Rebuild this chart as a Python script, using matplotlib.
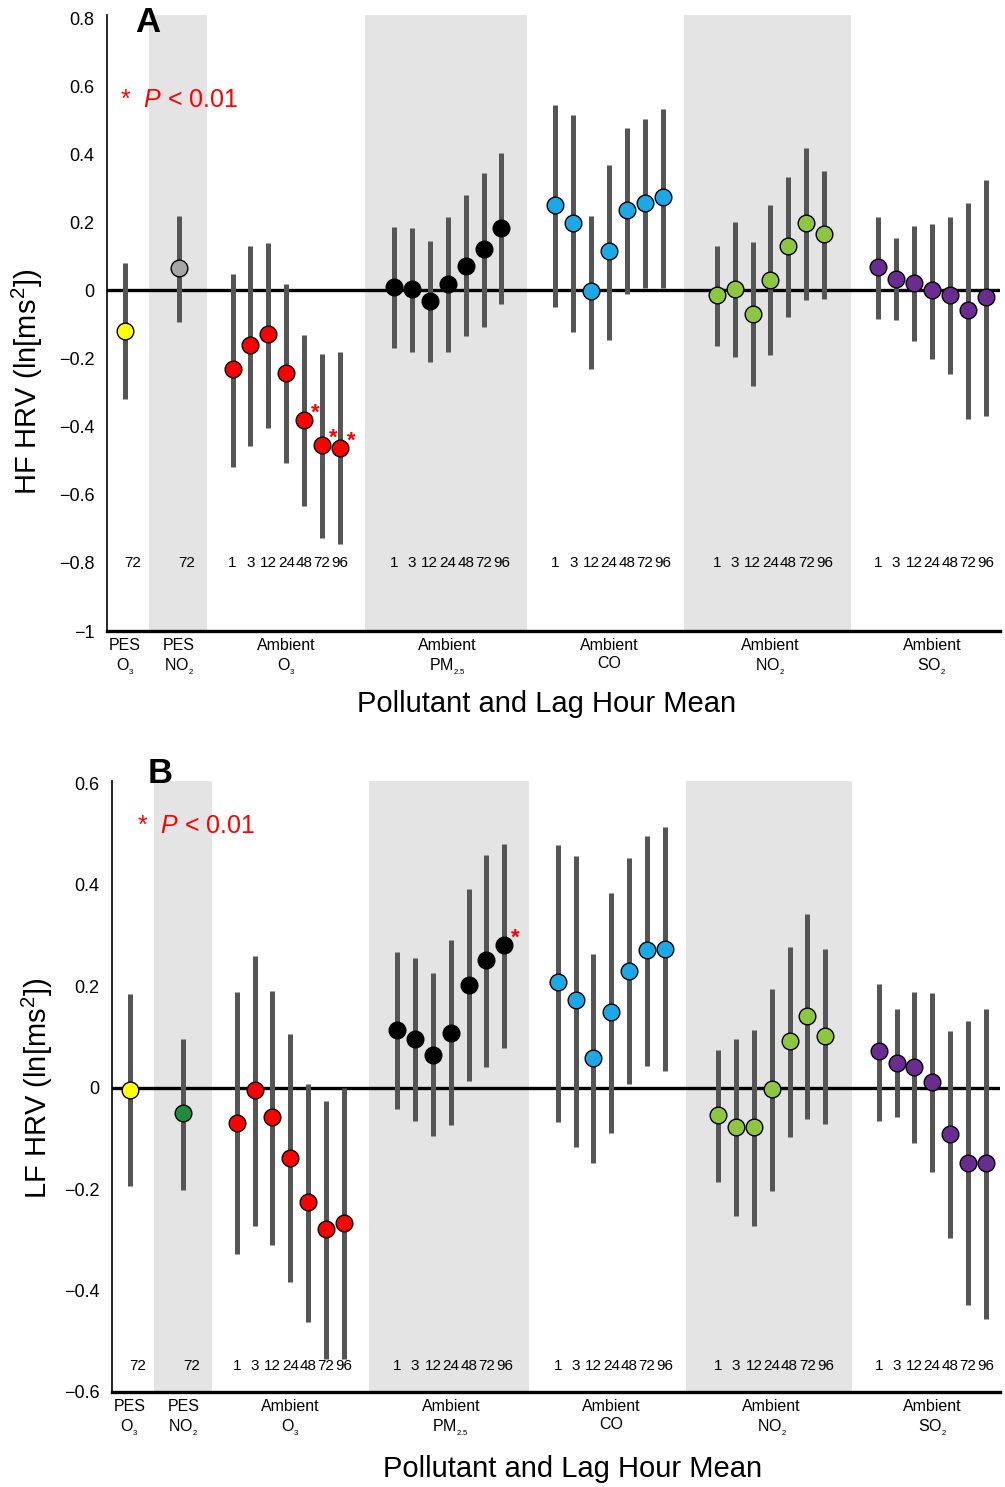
import matplotlib

matplotlib.use("Agg")
import matplotlib.pyplot as plt
import matplotlib.transforms as mtransforms
import numpy as np

plt.rcParams["font.family"] = ["Liberation Sans", "DejaVu Sans"]
plt.rcParams["mathtext.fontset"] = "custom"
plt.rcParams["mathtext.rm"] = "Liberation Sans"
plt.rcParams["mathtext.it"] = "Liberation Sans:italic"
plt.rcParams["mathtext.bf"] = "Liberation Sans:bold"

lag_hours = ["1", "3", "12", "24", "48", "72", "96"]
pes_labels = ["PES\nO$_{_3}$", "PES\nNO$_{_2}$"]
pes_lag = ["72", "72"]
ambient_labels = ["Ambient\nO$_{_3}$", "Ambient\nPM$_{_{2.5}}$", "Ambient\nCO",
                  "Ambient\nNO$_{_2}$", "Ambient\nSO$_{_2}$"]
ambient_colors = ["#ff0000", "#000000", "#1aa8e6", "#8dc63f", "#6a2c91"]

# panel A: HF HRV
hf_pes_colors = ["#ffff00", "#a6a6a6"]
hf_pes_est = [-0.118, 0.065]
hf_pes_lo = [-0.320, -0.093]
hf_pes_hi = [0.081, 0.220]
hf_est = [
    [-0.232, -0.161, -0.127, -0.243, -0.380, -0.455, -0.462],
    [0.011, 0.004, -0.032, 0.020, 0.072, 0.122, 0.182],
    [0.250, 0.199, -0.001, 0.115, 0.236, 0.258, 0.274],
    [-0.012, 0.004, -0.069, 0.032, 0.130, 0.197, 0.166],
    [0.068, 0.035, 0.022, 0.000, -0.012, -0.058, -0.018],
]
hf_lo = [
    [-0.519, -0.458, -0.403, -0.507, -0.632, -0.728, -0.746],
    [-0.168, -0.181, -0.211, -0.181, -0.135, -0.108, -0.041],
    [-0.050, -0.122, -0.230, -0.146, -0.009, 0.007, 0.007],
    [-0.162, -0.196, -0.281, -0.189, -0.078, -0.027, -0.024],
    [-0.084, -0.086, -0.147, -0.201, -0.246, -0.378, -0.368],
]
hf_hi = [
    [0.049, 0.130, 0.140, 0.018, -0.132, -0.186, -0.182],
    [0.186, 0.184, 0.145, 0.216, 0.280, 0.345, 0.403],
    [0.545, 0.515, 0.219, 0.369, 0.476, 0.504, 0.534],
    [0.131, 0.200, 0.142, 0.250, 0.334, 0.419, 0.351],
    [0.215, 0.153, 0.189, 0.195, 0.215, 0.257, 0.323],
]
hf_signif = [(0, 4), (0, 5), (0, 6)]

# panel B: LF HRV
lf_pes_colors = ["#ffff00", "#1e8c3a"]
lf_pes_est = [-0.004, -0.051]
lf_pes_lo = [-0.195, -0.201]
lf_pes_hi = [0.184, 0.096]
lf_est = [
    [-0.070, -0.005, -0.058, -0.139, -0.226, -0.279, -0.267],
    [0.113, 0.096, 0.065, 0.108, 0.202, 0.251, 0.280],
    [0.207, 0.172, 0.059, 0.148, 0.230, 0.271, 0.273],
    [-0.055, -0.077, -0.077, -0.002, 0.091, 0.141, 0.102],
    [0.071, 0.049, 0.041, 0.010, -0.091, -0.148, -0.149],
]
lf_lo = [
    [-0.329, -0.272, -0.310, -0.384, -0.462, -0.535, -0.535],
    [-0.042, -0.065, -0.095, -0.074, 0.013, 0.040, 0.077],
    [-0.068, -0.117, -0.148, -0.090, 0.007, 0.042, 0.032],
    [-0.187, -0.254, -0.273, -0.204, -0.098, -0.063, -0.071],
    [-0.066, -0.058, -0.109, -0.167, -0.296, -0.429, -0.457],
]
lf_hi = [
    [0.188, 0.259, 0.191, 0.105, 0.006, -0.026, 0.000],
    [0.267, 0.255, 0.225, 0.290, 0.392, 0.458, 0.480],
    [0.477, 0.457, 0.263, 0.383, 0.452, 0.495, 0.513],
    [0.074, 0.096, 0.113, 0.194, 0.276, 0.342, 0.272],
    [0.204, 0.155, 0.188, 0.186, 0.111, 0.132, 0.155],
]
lf_signif = [(1, 6)]

PES_X = [-6, -3]
GROUP_START = [0, 9, 18, 27, 36]
BANDS = [(-4.65, -1.4), (7.4, 16.4), (25.2, 34.5)]
BAR_COLOR = "#555555"


def tick_fmt(v, _pos=None):
    if abs(v) < 1e-9:
        return "0"
    s = f"{v:.1f}".replace(".0", "") if abs(abs(v) - 1) < 1e-9 else f"{v:.1f}"
    return s.replace("-", "\u2212")


def draw_panel(ax, pes_colors, pes_est, pes_lo, pes_hi, est, lo, hi, signif,
               ylim, yticks, lag_y):
    ax.set_xlim(-7.0, 42.8)
    ax.set_ylim(*ylim)
    for x0, x1 in BANDS:
        ax.axvspan(x0, x1, color="#e4e4e4", lw=0, zorder=0)
    ax.axhline(0, color="black", lw=2.4, zorder=1)

    # PES points
    ax.vlines(PES_X, pes_lo, pes_hi, color=BAR_COLOR, lw=3.6, zorder=2)
    for x, y, c in zip(PES_X, pes_est, pes_colors):
        ax.plot(x, y, "o", ms=12, mfc=c, mec="black", mew=1.0, zorder=3)
    for x, lab in zip(PES_X, pes_lag):
        ax.text(x + 0.45, lag_y, lab, ha="center", va="center", fontsize=11)

    # ambient pollutants
    lag_idx = np.arange(len(lag_hours))
    for g, start in enumerate(GROUP_START):
        xs = start + lag_idx
        ax.vlines(xs, lo[g], hi[g], color=BAR_COLOR, lw=3.6, zorder=2)
        ax.plot(xs, est[g], "o", ls="none", ms=12, mfc=ambient_colors[g],
                mec="black", mew=1.0, zorder=3)
        for x, lab in zip(xs, lag_hours):
            ax.text(x, lag_y, lab, ha="center", va="center", fontsize=11)

    for g, k in signif:
        ax.annotate("*", (GROUP_START[g] + k, est[g][k]), xytext=(8, 5),
                    textcoords="offset points", ha="center", va="center",
                    color="#ff0000", fontsize=16, fontweight="bold", zorder=4)

    # group labels under the axis
    trans = mtransforms.blended_transform_factory(ax.transData, ax.transAxes)
    label_x = PES_X + [s + 3 for s in GROUP_START]
    for x, lab in zip(label_x, pes_labels + ambient_labels):
        ax.annotate(lab, (x, 0), xycoords=trans, xytext=(0, -5),
                    textcoords="offset points", ha="center", va="top",
                    fontsize=11.5, linespacing=1.25)

    ax.set_yticks(yticks)
    ax.yaxis.set_major_formatter(plt.FuncFormatter(tick_fmt))
    ax.set_xticks([])
    ax.tick_params(axis="y", length=0, pad=9, labelsize=13)
    for side in ("top", "right"):
        ax.spines[side].set_visible(False)
    ax.spines["left"].set_linewidth(1.2)
    ax.spines["bottom"].set_linewidth(2.4)


fig = plt.figure(figsize=(10.05, 14.87), dpi=100)
H = 1487.0
W = 1005.0

ax_a = fig.add_axes([107 / W, 1 - 631 / H, 893 / W, (631 - 14.6) / H])
draw_panel(ax_a, hf_pes_colors, hf_pes_est, hf_pes_lo, hf_pes_hi,
           hf_est, hf_lo, hf_hi, hf_signif, (-1.0, 0.81),
           np.round(np.arange(-1.0, 0.81, 0.2), 1), -0.80)

ax_b = fig.add_axes([112 / W, 1 - 1392 / H, 888 / W, (1392 - 780.5) / H])
draw_panel(ax_b, lf_pes_colors, lf_pes_est, lf_pes_lo, lf_pes_hi,
           lf_est, lf_lo, lf_hi, lf_signif, (-0.6, 0.605),
           np.round(np.arange(-0.6, 0.61, 0.2), 1), -0.549)

# titles, labels
fig.text(148 / W, 1 - 22 / H, "A", fontsize=25, fontweight="bold",
         ha="center", va="center")
fig.text(160 / W, 1 - 773 / H, "B", fontsize=25, fontweight="bold",
         ha="center", va="center")
fig.text(120 / W, 1 - 100 / H, "*  $P$ < 0.01", color="#ff0000", fontsize=18,
         ha="left", va="center")
fig.text(137 / W, 1 - 826 / H, "*  $P$ < 0.01", color="#ff0000", fontsize=18,
         ha="left", va="center")
fig.text(27 / W, 1 - 382 / H, "HF HRV (ln[ms$^2$])", rotation=90, fontsize=21,
         ha="center", va="center")
fig.text(37 / W, 1 - 1088 / H, "LF HRV (ln[ms$^2$])", rotation=90, fontsize=21,
         ha="center", va="center")
fig.text(547 / W, 1 - 704 / H, "Pollutant and Lag Hour Mean", fontsize=21,
         ha="center", va="center")
fig.text(573 / W, 1 - 1469 / H, "Pollutant and Lag Hour Mean", fontsize=21,
         ha="center", va="center")

fig.savefig("out.png", dpi=100)
